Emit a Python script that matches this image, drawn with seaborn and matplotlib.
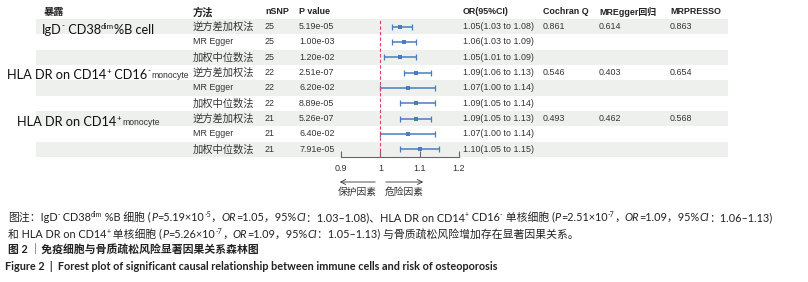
import matplotlib
matplotlib.use("Agg")
import numpy as np
import pandas as pd
import matplotlib.pyplot as plt
import seaborn as sns
from matplotlib.patches import Rectangle

sns.set_theme(style="white")
plt.rcParams["font.family"] = ["Liberation Sans", "Noto Sans CJK SC", "DejaVu Sans"]

# ---- data ----
methods = ["逆方差加权法", "MR Egger", "加权中位数法"] * 3
nsnp = [25, 25, 25, 22, 22, 22, 21, 21, 21]
pvals = ["5.19e-05", "1.00e-03", "1.20e-02", "2.51e-07", "6.20e-02",
         "8.89e-05", "5.26e-07", "6.40e-02", "7.91e-05"]
or_val = [1.05, 1.06, 1.05, 1.09, 1.07, 1.09, 1.09, 1.07, 1.10]
or_lo = [1.03, 1.03, 1.01, 1.06, 1.00, 1.05, 1.05, 1.00, 1.05]
or_hi = [1.08, 1.09, 1.09, 1.13, 1.14, 1.14, 1.13, 1.14, 1.15]
cochran_q = ["0.861", "0.546", "0.493"]
egger_int = ["0.614", "0.403", "0.462"]
mrpresso = ["0.863", "0.654", "0.568"]
x_ticks = [0.9, 1, 1.1, 1.2]
x_ticklabels = ["0.9", "1", "1.1", "1.2"]

W, H = 808, 282
blue = "#4a7cc0"
fig = plt.figure(figsize=(W / 100, H / 100), dpi=100)
bg = fig.add_axes([0, 0, 1, 1])
bg.set_xlim(0, W)
bg.set_ylim(H, 0)
bg.axis("off")
renderer = fig.canvas.get_renderer()


def adv(s, kw):
    t = bg.text(0, 0, "|" + s + "|", **kw)
    w1 = t.get_window_extent(renderer).width
    t.remove()
    t = bg.text(0, 0, "||", **kw)
    w2 = t.get_window_extent(renderer).width
    t.remove()
    return w1 - w2


def rich(x, y, pieces):
    for txt, kw in pieces:
        kw = dict(kw)
        dy = kw.pop("dy", 0)
        bg.text(x, y + dy, txt, va="baseline", ha="left", **kw)
        x += adv(txt, kw)
    return x


# ---- table rows ----
top, rh = 19, 15.33
for i in range(0, 9, 2):
    bg.add_patch(Rectangle((36, top + i * rh), 728 - 36, rh, color="#eef0ee", lw=0, zorder=0))
yc = [top + rh * (i + 0.5) for i in range(9)]

lat = dict(family=["Liberation Sans", "Noto Sans CJK SC"], size=6.4, color="#333333")
cjk = dict(family=["Noto Sans CJK SC", "DejaVu Sans"], size=7.4, color="#333333")
hb = dict(lat, weight="bold", color="#222222")
hc = dict(cjk, weight="bold", color="#222222")

hy = 12
bg.text(44, hy, "暴露", va="center", **hc)
bg.text(193, hy, "方法", va="center", **hc)
bg.text(265, hy, "nSNP", va="center", **hb)
bg.text(299, hy, "P value", va="center", **hb)
bg.text(463, hy, "OR(95%CI)", va="center", **hb)
bg.text(543, hy, "Cochran Q", va="center", **hb)
bg.text(599, hy, "MREgger回归", va="center", **hb)
bg.text(670, hy, "MRPRESSO", va="center", **hb)

for i in range(9):
    m = methods[i]
    bg.text(193, yc[i], m, va="center", **(lat if m.startswith("MR") else cjk))
    bg.text(265, yc[i], str(nsnp[i]), va="center", **lat)
    bg.text(299, yc[i], pvals[i], va="center", **lat)
    bg.text(463, yc[i], f"{or_val[i]:.2f}({or_lo[i]:.2f} to {or_hi[i]:.2f})", va="center", **lat)
for k in range(3):
    r = 3 * k
    bg.text(543, yc[r], cochran_q[k], va="center", **lat)
    bg.text(599, yc[r], egger_int[k], va="center", **lat)
    bg.text(670, yc[r], mrpresso[k], va="center", **lat)

# ---- exposure labels ----
big = dict(family=["Lato", "DejaVu Sans"], size=9.2, color="#111111")
sup = dict(big, size=5.8, dy=-5)
mono = dict(family=["Liberation Sans"], size=6.2, color="#333333", dy=-1)
rich(42, yc[0] + 7, [("IgD", big), ("-", sup), (" CD38", big), ("dim", sup), ("%B cell", big)])
x = rich(7, yc[3] + 6, [("HLA DR on CD14", big), ("+", sup), (" CD16", big), ("-", sup)])
rich(x + 1.5, yc[3] + 6, [("monocyte", mono)])
x = rich(17, yc[6] + 7, [("HLA DR on CD14", big), ("+", sup)])
rich(x + 1.5, yc[6] + 7, [("monocyte", mono)])

# ---- forest plot ----
df = pd.DataFrame({"row": range(9), "or": or_val, "lo": or_lo, "hi": or_hi})
ax = fig.add_axes([341 / W, 1 - 157 / H, 118 / W, (157 - top) / H])
ax.patch.set_alpha(0)
ax.errorbar(df["or"], df["row"], xerr=[df["or"] - df["lo"], df["hi"] - df["or"]],
            fmt="none", ecolor=blue, elinewidth=1.1, capsize=2.2, capthick=0.9)
sns.scatterplot(data=df, x="or", y="row", marker="s", s=12, color=blue,
                linewidth=0, ax=ax, zorder=3)
ax.axvline(1, ls=(0, (3, 2)), color="#e0405f", lw=0.8)
ax.set_xlim(0.9, 1.2)
ax.set_ylim(8.5, -0.5)
ax.set_xticks(x_ticks)
ax.set_xticklabels(x_ticklabels, fontsize=6.5, color="#333333")
ax.set_yticks([])
ax.set_xlabel("")
ax.set_ylabel("")
for s in ["left", "top", "right"]:
    ax.spines[s].set_visible(False)
ax.spines["bottom"].set_color("#666666")
ax.spines["bottom"].set_linewidth(0.8)
ax.tick_params(axis="x", direction="in", length=4, width=0.8, color="#666666", pad=5, bottom=True)

arr = dict(arrowstyle="->,head_length=0.3,head_width=0.15", lw=0.6, color="#333333")
bg.annotate("", xy=(337, 182), xytext=(378, 182), arrowprops=arr)
bg.annotate("", xy=(426, 182), xytext=(383, 182), arrowprops=arr)
bg.text(357, 192, "保护因素", ha="center", va="center", **dict(cjk, size=7))
bg.text(404, 192, "危险因素", ha="center", va="center", **dict(cjk, size=7))

# ---- caption ----
c = dict(family=["Lato", "Noto Sans CJK SC", "DejaVu Sans"], size=7.8, color="#222222")
ci = dict(c, style="italic")
cs = dict(c, size=5, dy=-4)
rich(8, 221, [("图注：IgD", c), ("-", cs), (" CD38", c), ("dim", cs), (" %B 细胞 (", c),
              ("P", ci), ("=5.19×10", c), ("-5", cs), ("，", c), ("OR", ci), ("=1.05，95%", c),
              ("CI", ci), ("：1.03–1.08)、HLA DR on CD14", c), ("+", cs), (" CD16", c), ("-", cs),
              (" 单核细胞 (", c), ("P", ci), ("=2.51×10", c), ("-7", cs), ("，", c), ("OR", ci),
              ("=1.09，95%", c), ("CI", ci), ("：1.06–1.13)", c)])
rich(8, 238, [("和 HLA DR on CD14", c), ("+", cs), (" 单核细胞 (", c), ("P", ci), ("=5.26×10", c),
              ("-7", cs), ("，", c), ("OR", ci), ("=1.09，95%", c), ("CI", ci),
              ("：1.05–1.13) 与骨质疏松风险增加存在显著因果关系。", c)])
cb = dict(c, weight="bold")
rich(8, 254, [("图 2 ｜免疫细胞与骨质疏松风险显著因果关系森林图", cb)])
rich(5, 270, [("Figure 2  |  Forest plot of significant causal relationship between immune cells and risk of osteoporosis", cb)])

fig.savefig("out.png", dpi=100)
